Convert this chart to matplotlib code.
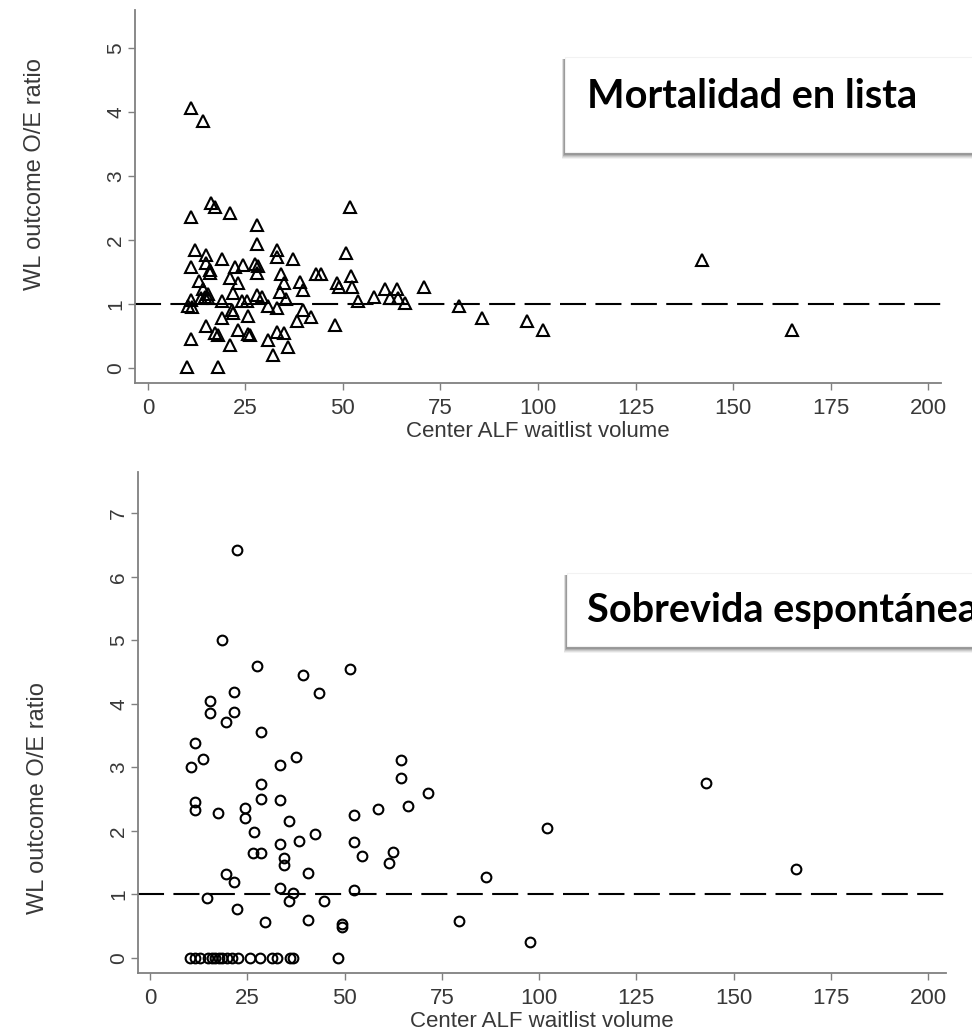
import matplotlib
matplotlib.use("Agg")
import matplotlib.pyplot as plt
from matplotlib import font_manager
from matplotlib.patches import Rectangle

# Mortalidad en lista (triangles)
top_volume = [11, 14.2, 16.2, 17.2, 11, 21, 27.9, 27.9, 51.8, 50.9,
              12, 15, 11, 15, 19.1, 22.3, 24.3, 27.4, 28.3, 33,
              33, 37.1, 27.9, 15.9, 13.2, 21, 23.2, 14.2, 34.1, 34.9,
              39, 39.8, 43.2, 44.5, 48.4, 49, 52, 52.3, 11, 10.4,
              11.3, 14.6, 15.4, 19.1, 21.9, 24, 27.9, 29.2, 30.9, 33,
              33.8, 35.5, 53.8, 57.9, 60.8, 63.8, 62.1, 64.1, 66, 70.9,
              79.7, 85.6, 97.1, 101.4, 142, 165, 18.9, 15, 21.9, 21.5,
              17.2, 18, 25.7, 23, 25.7, 26.3, 39.8, 41.9, 38.1, 33,
              34.9, 30.9, 36, 32.1, 21, 11, 48, 10.1, 18,
              13.5, 15.5, 16, 25.5]
top_ratio = [4.06, 3.85, 2.57, 2.52, 2.36, 2.42, 2.23, 1.94, 2.52, 1.80,
             1.84, 1.76, 1.58, 1.64, 1.70, 1.58, 1.61, 1.63, 1.60, 1.84,
             1.74, 1.70, 1.49, 1.49, 1.36, 1.40, 1.32, 1.24, 1.47, 1.33,
             1.35, 1.22, 1.47, 1.47, 1.33, 1.27, 1.43, 1.27, 1.06, 0.97,
             0.95, 1.11, 1.09, 1.05, 1.17, 1.05, 1.14, 1.11, 0.97, 0.94,
             1.19, 1.07, 1.04, 1.11, 1.24, 1.24, 1.09, 1.09, 1.01, 1.27,
             0.97, 0.78, 0.74, 0.59, 1.69, 0.59, 0.78, 0.66, 0.86, 0.90,
             0.54, 0.52, 0.81, 0.60, 0.53, 0.51, 0.91, 0.80, 0.74, 0.57,
             0.55, 0.43, 0.33, 0.20, 0.36, 0.46, 0.67, 0.02, 0.02,
             1.10, 1.15, 1.53, 1.05]

# Sobrevida espontanea (circles)
bottom_volume = [22.4, 18.6, 27.4, 39.4, 51.4, 43.4, 15.4, 21.6, 15.4, 21.6,
                 19.5, 28.5, 11.6, 13.5, 10.5, 33.4, 37.5, 64.4, 64.4, 71.5,
                 66.4, 58.5, 52.5, 52.5, 54.5, 62.4, 61.4, 52.4, 11.6, 11.6,
                 17.5, 24.4, 24.4, 28.5, 28.5, 33.4, 35.6, 26.6, 33.4, 38.4,
                 42.5, 26.4, 28.5, 34.4, 34.4, 40.6, 19.5, 21.6, 14.6, 33.4,
                 36.7, 35.6, 44.6, 22.4, 29.6, 40.6, 49.4, 49.4, 79.3, 142.9,
                 102, 86.4, 166, 97.7,
                 10.3, 11.6, 12.9, 15, 15.9, 16.7, 17.6, 18.4, 19.7, 21,
                 22.5, 25.7, 28.3, 31.3, 32.6, 36, 36.8, 48.3]
bottom_ratio = [6.43, 5.00, 4.59, 4.46, 4.55, 4.17, 4.05, 4.19, 3.85, 3.88,
                3.71, 3.55, 3.39, 3.14, 3.01, 3.04, 3.17, 3.12, 2.84, 2.59,
                2.39, 2.34, 2.25, 1.82, 1.60, 1.67, 1.49, 1.07, 2.46, 2.33,
                2.29, 2.36, 2.20, 2.74, 2.51, 2.48, 2.15, 1.99, 1.79, 1.84,
                1.95, 1.66, 1.66, 1.57, 1.46, 1.34, 1.33, 1.20, 0.94, 1.10,
                1.03, 0.89, 0.90, 0.77, 0.56, 0.60, 0.54, 0.49, 0.59, 2.75,
                2.05, 1.28, 1.40, 0.25,
                0, 0, 0, 0, 0, 0, 0, 0, 0, 0,
                0, 0, 0, 0, 0, 0, 0, 0]

x_ticks = [0, 25, 50, 75, 100, 125, 150, 175, 200]
top_y_ticks = [0, 1, 2, 3, 4, 5]
bottom_y_ticks = [0, 1, 2, 3, 4, 5, 6, 7]

W, H = 972, 1033
names = {f.name for f in font_manager.fontManager.ttflist}
tick_font = 'Liberation Sans Narrow' if 'Liberation Sans Narrow' in names else 'Liberation Sans'
label_font = 'Liberation Sans'
title_font = 'Lato' if 'Lato' in names else 'DejaVu Sans'

grey_axis = '#808080'
grey_text = '#383838'

fig = plt.figure(figsize=(W / 100, H / 100), dpi=100)


def px_rect(x0, y0, x1, y1):
    # pixel box (top-down y) -> figure fraction [left, bottom, width, height]
    return [x0 / W, 1 - y1 / H, (x1 - x0) / W, (y1 - y0) / H]


def style_axes(ax, yticks, ylabel_y):
    for side in ['top', 'right']:
        ax.spines[side].set_visible(False)
    for side in ['left', 'bottom']:
        ax.spines[side].set_color(grey_axis)
        ax.spines[side].set_linewidth(1.3)
    ax.set_xticks(x_ticks)
    ax.set_yticks(yticks)
    ax.tick_params(axis='both', direction='out', length=5, width=1.0, color=grey_axis,
                   labelcolor=grey_text)
    ax.tick_params(axis='x', labelsize=16, pad=6)
    ax.tick_params(axis='y', labelsize=15, pad=2)
    for lab in ax.get_xticklabels():
        lab.set_family(tick_font)
    for lab in ax.get_yticklabels():
        lab.set_family(tick_font)
        lab.set_rotation(90)
        lab.set_va('center')
    ax.set_xlabel('Center ALF waitlist volume', fontsize=16, family=label_font,
                  color=grey_text, labelpad=1)
    ax.set_ylabel('WL outcome O/E ratio', fontsize=17, family=label_font,
                  color=grey_text)
    ax.yaxis.set_label_coords(-0.11, ylabel_y)
    ax.axhline(1, color='black', lw=1.5, ls=(0, (12.5, 4.5)), zorder=1)


def add_box(x0, y0, x1, y1, label, tx, baseline):
    # soft shadow under a white box
    for k, a in [(5, 0.05), (4, 0.07), (3, 0.09), (2, 0.12), (1, 0.15)]:
        fig.patches.append(Rectangle(px_rect(x0 - 1 - k * 0.4, y0 + 3, x1, y1 + 2 + k)[:2],
                                     (x1 - x0 + 2) / W, (y1 - y0 + k) / H,
                                     transform=fig.transFigure, facecolor='black',
                                     edgecolor='none', alpha=a, zorder=5))
    fig.patches.append(Rectangle(px_rect(x0, y0, x1, y1)[:2], (x1 - x0) / W, (y1 - y0) / H,
                                 transform=fig.transFigure, facecolor='white',
                                 edgecolor='#f2f2f2', lw=0.8, zorder=6))
    fig.text(tx / W, 1 - baseline / H, label, ha='left', va='baseline',
             fontsize=28.5, fontweight='bold', family=title_font, color='black', zorder=7)


ax1 = fig.add_axes(px_rect(135, 10, 941, 383))
ax1.plot(top_volume, top_ratio, linestyle='none', marker='^', markersize=9,
         markerfacecolor='none', markeredgecolor='black', markeredgewidth=1.5, zorder=2)
ax1.set_xlim(-3.3, 203.3)
ax1.set_ylim(-0.234, 5.59)
style_axes(ax1, top_y_ticks, 0.56)

ax2 = fig.add_axes(px_rect(138, 472, 946, 973))
ax2.plot(bottom_volume, bottom_ratio, linestyle='none', marker='o', markersize=7,
         markerfacecolor='none', markeredgecolor='black', markeredgewidth=1.5, zorder=2)
ax2.set_xlim(-3.1, 204.6)
ax2.set_ylim(-0.236, 7.65)
style_axes(ax2, bottom_y_ticks, 0.35)

add_box(565, 57, 990, 152, 'Mortalidad en lista', 587, 108)
add_box(567, 573, 990, 646, 'Sobrevida espontánea', 587, 622)

fig.savefig('out.png', dpi=100)
